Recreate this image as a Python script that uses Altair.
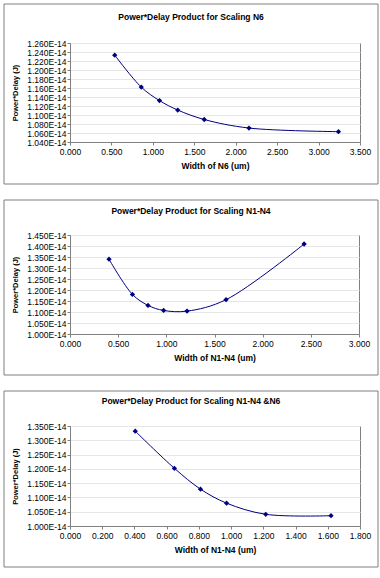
import altair as alt
import pandas as pd

# ---- data ----
titles = [
    "Power*Delay Product for Scaling N6",
    "Power*Delay Product for Scaling N1-N4",
    "Power*Delay Product for Scaling N1-N4 &N6",
]
x_titles = ["Width of N6 (um)", "Width of N1-N4 (um)", "Width of N1-N4 (um)"]
y_title = "Power*Delay (J)"

n6_width = [0.54, 0.86, 1.08, 1.30, 1.62, 2.16, 3.24]
n6_pd = [1.233e-14, 1.162e-14, 1.132e-14, 1.111e-14, 1.090e-14, 1.071e-14, 1.063e-14]

n14_width = [0.405, 0.648, 0.81, 0.972, 1.215, 1.62, 2.43]
n14_pd = [1.340e-14, 1.180e-14, 1.130e-14, 1.107e-14, 1.104e-14, 1.156e-14, 1.409e-14]

both_width = [0.405, 0.648, 0.81, 0.972, 1.215, 1.62]
both_pd = [1.332e-14, 1.202e-14, 1.129e-14, 1.080e-14, 1.041e-14, 1.036e-14]

n6_xticks = [0.0, 0.5, 1.0, 1.5, 2.0, 2.5, 3.0, 3.5]
n6_yticks = [1.04e-14, 1.06e-14, 1.08e-14, 1.10e-14, 1.12e-14, 1.14e-14,
             1.16e-14, 1.18e-14, 1.20e-14, 1.22e-14, 1.24e-14, 1.26e-14]
n14_xticks = [0.0, 0.5, 1.0, 1.5, 2.0, 2.5, 3.0]
n14_yticks = [1.00e-14, 1.05e-14, 1.10e-14, 1.15e-14, 1.20e-14, 1.25e-14,
              1.30e-14, 1.35e-14, 1.40e-14, 1.45e-14]
both_xticks = [0.0, 0.2, 0.4, 0.6, 0.8, 1.0, 1.2, 1.4, 1.6, 1.8]
both_yticks = [1.00e-14, 1.05e-14, 1.10e-14, 1.15e-14, 1.20e-14, 1.25e-14,
               1.30e-14, 1.35e-14]

FONT = "Liberation Sans"
NAVY = "#000080"
GRAY = "#808080"


def panel(xs, ys, xticks, yticks, title, xtitle, width, height, rect_top, rect_bottom, title_y):
    df = pd.DataFrame({"w": xs, "pd": ys})
    base = alt.Chart(df)
    xenc = alt.X(
        "w:Q",
        scale=alt.Scale(domain=[xticks[0], xticks[-1]], nice=False, zero=False),
        axis=alt.Axis(
            values=xticks, format=".3f", title=xtitle, grid=False,
            titlePadding=6, labelPadding=2,
        ),
    )
    yenc = alt.Y(
        "pd:Q",
        scale=alt.Scale(domain=[yticks[0], yticks[-1]], nice=False, zero=False),
        axis=alt.Axis(
            values=yticks, title=y_title, grid=True,
            labelExpr="format(datum.value * 1e14, '.3f') + 'E-14'",
            titlePadding=7, labelPadding=1, titleFontSize=7.5,
        ),
    )
    line = base.mark_line(color=NAVY, strokeWidth=1, interpolate="catmull-rom").encode(x=xenc, y=yenc)
    pts = base.mark_point(shape="diamond", filled=True, color=NAVY, size=28, opacity=1).encode(x=xenc, y=yenc)
    one = pd.DataFrame({"t": [title]})
    ttl = alt.Chart(one).mark_text(
        font=FONT, fontSize=8.5, fontWeight="bold", color="black", baseline="middle", align="center"
    ).encode(text="t:N", x=alt.value(121), y=alt.value(title_y))
    border = alt.Chart(one).mark_rect(fillOpacity=0, stroke="#7f7f7f", strokeWidth=1).encode(
        x=alt.value(-66), x2=alt.value(308), y=alt.value(rect_top), y2=alt.value(rect_bottom)
    )
    return alt.layer(border, line, pts, ttl).properties(width=width, height=height)


c1 = panel(n6_width, n6_pd, n6_xticks, n6_yticks, titles[0], x_titles[0], 290, 99, -39, 141, -26)
c2 = panel(n14_width, n14_pd, n14_xticks, n14_yticks, titles[1], x_titles[1], 289, 99, -35, 140, -24)
c3 = panel(both_width, both_pd, both_xticks, both_yticks, titles[2], x_titles[2], 290, 100, -35, 141, -25)

chart = alt.vconcat(c1, c2, c3, spacing=14).properties(
    padding={"left": 3, "top": 3, "right": 0, "bottom": 0}
).configure(font=FONT).configure_view(
    stroke=GRAY, strokeWidth=1
).configure_axis(
    labelFont=FONT, labelFontSize=8.5, labelColor="black",
    titleFont=FONT, titleFontSize=8.5, titleFontWeight="bold", titleColor="black",
    domainColor=GRAY, tickColor=GRAY, tickSize=3, gridColor="#e6e6e6", gridWidth=1,
    labelFlush=False, labelOverlap=False,
)

chart.save("out.html", embed_options={"renderer": "svg", "actions": False})
